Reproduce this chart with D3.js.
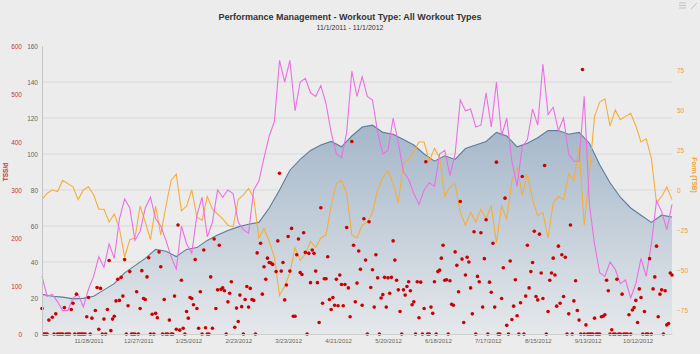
<!DOCTYPE html>
<html>
<head>
<meta charset="utf-8">
<script src="https://cdnjs.cloudflare.com/ajax/libs/d3/7.8.5/d3.min.js"></script>
<style>
  body { margin: 0; background: #ececec; }
  svg { display: block; font-family: "Liberation Sans", Arial, sans-serif; }
</style>
</head>
<body>
<div id="wrapper"></div>
<script>
// chart data
const startDate = new Date(2011, 10, 1)
const endDate = new Date(2012, 10, 1)

const xTickLabels = ["11/28/2011", "12/27/2011", "1/25/2012", "2/23/2012", "3/23/2012", "4/21/2012",
  "5/20/2012", "6/18/2012", "7/17/2012", "8/15/2012", "9/13/2012", "10/12/2012"]
const loadTicks = [0, 20, 40, 60, 80, 100, 120, 140, 160]
const tssTicks = [0, 100, 200, 300, 400, 500, 600]
const formTicks = [-75, -50, -25, 0, 25, 50, 75]

// fitness (CTL), one value every 6 days from 11/1/2011
const ctlStep = 6
const ctlValues = [22, 21, 20.5, 19.5, 19.8, 21, 24.5, 28, 34, 38, 42, 47, 46, 43, 47, 48,
  52, 55, 57.5, 59.5, 61, 62, 70, 80, 91, 97, 102, 105, 107, 104, 110, 115, 116, 112, 111,
  108, 105, 100, 96, 99, 97, 103, 105, 107, 112, 110, 104, 106, 109, 113, 113, 111, 112,
  106, 94, 84, 76, 70, 66, 62, 66, 65]

// fatigue (ATL), one value every 3 days
const atlStep = 3
const atlValues = [32, 21, 22, 18, 13, 13, 20, 22, 15, 25, 32, 43, 37, 50, 42, 64, 75, 70,
  52, 57, 70, 76, 64, 60, 52, 43, 36, 60, 50, 45, 66, 76, 54, 62, 80, 76, 80, 78, 62, 58,
  56, 80, 85, 98, 110, 118, 152, 140, 152, 124, 140, 142, 134, 132, 138, 128, 112, 100, 98,
  112, 146, 132, 143, 132, 130, 112, 100, 102, 120, 106, 90, 86, 78, 72, 80, 84, 82, 100,
  102, 88, 100, 130, 124, 125, 115, 116, 134, 115, 140, 110, 120, 96, 82, 104, 108, 125,
  116, 150, 122, 126, 113, 120, 100, 96, 96, 132, 72, 50, 34, 32, 40, 36, 28, 30, 20, 28,
  42, 32, 50, 74, 68, 58, 72]

// form (TSB), one value every 3 days
const tsbStep = 3
const tsbValues = [-6, -2, 0, -1, 6, 4, 2, -6, 0, 2, -3, -12, -12, -20, -15, -24, -42, -31,
  -30, -10, -20, -31, -10, -28, -10, 6, 10, -13, -10, 0, -17, -19, -4, -12, -15, -18, -22,
  -23, -6, -3, 1, -5, -30, -24, -32, -42, -66, -60, -52, -36, -44, -40, -32, -36, -30, -28,
  -10, 4, 6, -2, -28, -30, -22, -20, -14, 0, 8, 12, 4, -8, 17, 19, 24, 30, 30, 18, 26, 20,
  -4, 2, 4, -14, -22, -14, -20, -12, -18, -10, -33, -10, -18, 6, 14, -3, 10, -6, -16, -14,
  -30, -8, -4, -6, 10, 6, 27, -22, 10, 46, 55, 57, 40, 50, 44, 46, 48, 40, 30, 32, 20, -8,
  -4, 2, -6]

// daily TSS: [day after 11/1/2011, TSS]
const tssPoints = [[0,53],[1,0],[2,0],[3,0],[4,29],[6,35],[7,0],[8,42],[9,0],[10,0],[11,0],
  [12,0],[13,55],[14,0],[15,0],[16,0],[17,51],[18,64],[19,0],[20,83],[21,0],[22,0],[23,0],
  [24,0],[25,0],[26,36],[27,76],[28,0],[29,33],[31,49],[32,97],[33,10],[34,95],[35,0],
  [36,31],[37,0],[38,51],[39,153],[40,7],[41,31],[42,37],[43,69],[44,114],[45,70],[46,118],
  [47,79],[48,155],[49,0],[50,59],[51,130],[52,0],[53,0],[54,0],[55,88],[56,0],[57,53],
  [58,132],[59,74],[60,72],[61,119],[62,159],[63,0],[64,41],[65,0],[66,43],[67,34],[68,171],
  [69,140],[70,0],[71,72],[72,0],[73,0],[74,29],[75,0],[76,0],[77,79],[78,10],[79,227],
  [80,8],[81,112],[82,12],[83,0],[84,47],[85,33],[86,76],[87,74],[88,61],[89,155],[90,53],
  [91,12],[92,88],[93,0],[94,175],[95,13],[96,0],[97,0],[98,119],[99,12],[100,198],[101,53],
  [102,92],[103,185],[104,93],[105,96],[106,90],[107,0],[108,67],[109,85],[110,109],[112,14],
  [113,54],[114,26],[115,81],[116,57],[117,0],[118,72],[119,99],[120,56],[121,95],[122,72],
  [123,70],[124,0],[125,169],[127,189],[128,83],[129,140],[130,114],[131,158],[132,149],
  [133,148],[134,145],[136,130],[137,194],[138,335],[139,131],[140,149],[141,71],[142,102],
  [143,203],[144,131],[145,220],[146,37],[147,37],[148,165],[149,198],[150,128],[151,124],
  [152,211],[153,170],[154,0],[155,168],[156,107],[157,175],[158,168],[159,131],[160,107],
  [161,24],[162,263],[163,64],[164,115],[165,115],[166,161],[167,72],[168,51],[169,76],
  [170,60],[171,114],[172,59],[173,123],[174,103],[175,59],[176,103],[177,222],[178,96],
  [179,36],[180,401],[181,185],[182,67],[183,106],[184,173],[185,135],[186,60],[187,240],
  [188,154],[189,0],[190,234],[191,97],[192,134],[193,56],[194,165],[195,117],[196,0],
  [197,75],[198,82],[199,118],[200,56],[201,117],[202,85],[203,118],[204,194],[205,154],
  [206,112],[207,92],[208,47],[209,0],[210,92],[211,81],[212,99],[213,109],[214,90],
  [215,61],[216,67],[217,0],[218,109],[219,34],[220,108],[221,0],[222,53],[223,359],[224,0],
  [225,0],[226,56],[227,43],[228,109],[229,0],[230,130],[231,133],[232,158],[233,185],
  [234,112],[235,113],[236,0],[237,111],[238,62],[239,60],[240,171],[241,143],[242,88],
  [243,276],[244,156],[245,24],[246,123],[247,160],[248,150],[249,96],[250,42],[251,213],
  [252,0],[253,120],[254,109],[255,211],[256,56],[257,157],[258,238],[259,0],[260,108],
  [261,87],[262,189],[263,56],[264,358],[265,0],[266,0],[267,74],[268,138],[269,283],
  [270,18],[271,0],[272,152],[273,30],[274,58],[275,113],[276,38],[277,0],[278,65],[279,328],
  [280,0],[281,79],[282,185],[283,96],[284,130],[285,149],[286,214],[287,78],[288,71],
  [289,208],[290,127],[291,74],[292,351],[293,0],[294,47],[295,112],[296,127],[297,158],
  [298,123],[299,58],[300,183],[301,64],[302,165],[303,78],[304,160],[305,0],[306,42],
  [307,227],[308,0],[309,69],[310,111],[311,49],[312,29],[313,0],[314,551],[315,0],[316,19],
  [317,0],[318,0],[319,0],[320,0],[321,33],[322,0],[323,0],[324,0],[325,36],[326,37],
  [327,40],[328,112],[329,90],[330,0],[331,9],[332,0],[333,0],[334,114],[335,0],[336,0],
  [337,83],[338,0],[339,0],[340,0],[341,40],[342,0],[343,50],[344,55],[345,70],[346,24],
  [347,94],[348,76],[349,0],[350,47],[351,0],[352,0],[353,157],[354,0],[355,94],[356,119],
  [357,183],[358,36],[359,83],[360,92],[361,0],[362,90],[363,19],[364,22],[365,127],[366,123]]

async function drawChart() {

  // 1. Access data
  const dayOf = n => d3.timeDay.offset(startDate, n)
  const toSeries = (values, step) => values.map((v, i) => ({ date: dayOf(i * step), value: v }))
  const ctl = toSeries(ctlValues, ctlStep)
  const atl = toSeries(atlValues, atlStep)
  const tsb = toSeries(tsbValues, tsbStep)
  const tss = tssPoints.map(p => ({ date: dayOf(p[0]), value: p[1] }))
  const dateParser = d3.timeParse("%m/%d/%Y")
  const xTicks = xTickLabels.map(dateParser)

  // 2. Create chart dimensions
  let dimensions = {
    width: 700,
    height: 354,
    margins: { top: 46, right: 28, bottom: 20, left: 42 },
  }
  dimensions.boundedWidth = dimensions.width - dimensions.margins.left - dimensions.margins.right
  dimensions.boundedHeight = dimensions.height - dimensions.margins.top - dimensions.margins.bottom

  // 3. Draw canvas
  const wrapper = d3.select("#wrapper")
    .append("svg")
    .attr("width", dimensions.width)
    .attr("height", dimensions.height)

  wrapper.append("rect")
    .attr("width", dimensions.width)
    .attr("height", dimensions.height)
    .attr("fill", "#ececec")

  const bounds = wrapper.append("g")
    .attr("transform", `translate(${dimensions.margins.left},${dimensions.margins.top})`)

  // 4. Create scales
  const xScale = d3.scaleTime()
    .domain([startDate, endDate])
    .range([0, dimensions.boundedWidth])
  const loadScale = d3.scaleLinear()
    .domain([0, 160])
    .range([dimensions.boundedHeight, 0])
  const tssScale = d3.scaleLinear()
    .domain([0, 600])
    .range([dimensions.boundedHeight, 0])
  const formScale = d3.scaleLinear()
    .domain([-90, 90])
    .range([dimensions.boundedHeight, 0])

  // gridlines
  bounds.append("g")
    .selectAll("line")
    .data(loadTicks.filter(t => t > 0 && t < 160))
    .join("line")
      .attr("x1", 0)
      .attr("x2", dimensions.boundedWidth)
      .attr("y1", d => loadScale(d))
      .attr("y2", d => loadScale(d))
      .attr("stroke", "#d9d9d9")
      .attr("stroke-width", 1)

  // 5. Draw data
  const grad = wrapper.append("defs").append("linearGradient")
    .attr("id", "ctlFill")
    .attr("gradientUnits", "userSpaceOnUse")
    .attr("x1", 0).attr("x2", 0)
    .attr("y1", loadScale(118)).attr("y2", loadScale(0))
  grad.append("stop").attr("offset", 0).attr("stop-color", "#a3b6c9")
  grad.append("stop").attr("offset", 1).attr("stop-color", "#e5e8eb")

  const areaGenerator = d3.area()
    .x(d => xScale(d.date))
    .y0(loadScale(0))
    .y1(d => loadScale(d.value))
  bounds.append("path")
    .attr("d", areaGenerator(ctl))
    .attr("fill", "url(#ctlFill)")

  const loadLine = d3.line()
    .x(d => xScale(d.date))
    .y(d => loadScale(d.value))
  const formLine = d3.line()
    .x(d => xScale(d.date))
    .y(d => formScale(d.value))

  bounds.append("path")
    .attr("d", loadLine(ctl))
    .attr("fill", "none")
    .attr("stroke", "#5b7d9b")
    .attr("stroke-width", 1.1)

  bounds.append("path")
    .attr("d", formLine(tsb))
    .attr("fill", "none")
    .attr("stroke", "#f6ae3a")
    .attr("stroke-width", 1.1)

  bounds.append("path")
    .attr("d", loadLine(atl))
    .attr("fill", "none")
    .attr("stroke", "#ec6fe3")
    .attr("stroke-width", 1.1)

  bounds.append("g")
    .selectAll("circle")
    .data(tss)
    .join("circle")
      .attr("cx", d => xScale(d.date))
      .attr("cy", d => tssScale(d.value))
      .attr("r", 1.8)
      .attr("fill", "#cc0000")

  // 6. Draw peripherals
  const xAxis = bounds.append("g")
    .attr("transform", `translate(0,${dimensions.boundedHeight})`)
    .call(d3.axisBottom(xScale)
      .tickValues(xTicks)
      .tickFormat(d3.timeFormat("%-m/%-d/%Y"))
      .tickSize(0)
      .tickPadding(5))
  xAxis.select(".domain").attr("stroke", "#cfcfcf")
  xAxis.selectAll("text").attr("fill", "#666").style("font-size", "6px")

  const loadAxis = bounds.append("g")
    .call(d3.axisLeft(loadScale).tickValues(loadTicks).tickSize(0).tickSizeOuter(0).tickPadding(4))
  loadAxis.select(".domain").attr("stroke", "#c4c4c4")
  loadAxis.selectAll("text").attr("fill", "#666").style("font-size", "6.5px")

  const tssAxis = bounds.append("g")
    .attr("transform", "translate(-20,0)")
    .call(d3.axisLeft(tssScale).tickValues(tssTicks).tickSize(0).tickPadding(0))
  tssAxis.select(".domain").remove()
  tssAxis.selectAll("text").attr("fill", "#cc3333").style("font-size", "6.5px")

  const formAxis = bounds.append("g")
    .attr("transform", `translate(${dimensions.boundedWidth},0)`)
    .call(d3.axisRight(formScale).tickValues(formTicks).tickSize(0).tickPadding(5))
  formAxis.select(".domain").remove()
  formAxis.selectAll("text").attr("fill", "#f0a030").style("font-size", "6.5px")

  wrapper.append("text")
    .attr("transform", "translate(8,172) rotate(-90)")
    .attr("text-anchor", "middle")
    .attr("fill", "#cc3333")
    .style("font-size", "6.5px")
    .style("font-weight", "bold")
    .text("TSS/d")

  wrapper.append("text")
    .attr("transform", "translate(692,175) rotate(90)")
    .attr("text-anchor", "middle")
    .attr("fill", "#f0a030")
    .style("font-size", "6.5px")
    .style("font-weight", "bold")
    .text("Form (TSB)")

  wrapper.append("text")
    .attr("x", dimensions.width / 2)
    .attr("y", 19.5)
    .attr("text-anchor", "middle")
    .attr("fill", "#333")
    .style("font-size", "9px")
    .style("font-weight", "bold")
    .text("Performance Management - Workout Type: All Workout Types")

  wrapper.append("text")
    .attr("x", dimensions.width / 2)
    .attr("y", 30)
    .attr("text-anchor", "middle")
    .attr("fill", "#333")
    .style("font-size", "7px")
    .text("11/1/2011 - 11/1/2012")

  // menu + resize icons, top right
  const icons = wrapper.append("g").attr("stroke", "#c2c2c2").attr("stroke-width", 1)
  ;[3, 5.5, 8].forEach(y => icons.append("line").attr("x1", 679).attr("x2", 686).attr("y1", y).attr("y2", y))
  icons.append("line").attr("x1", 691).attr("x2", 697).attr("y1", 9).attr("y2", 3)
}
drawChart()
</script>
</body>
</html>
